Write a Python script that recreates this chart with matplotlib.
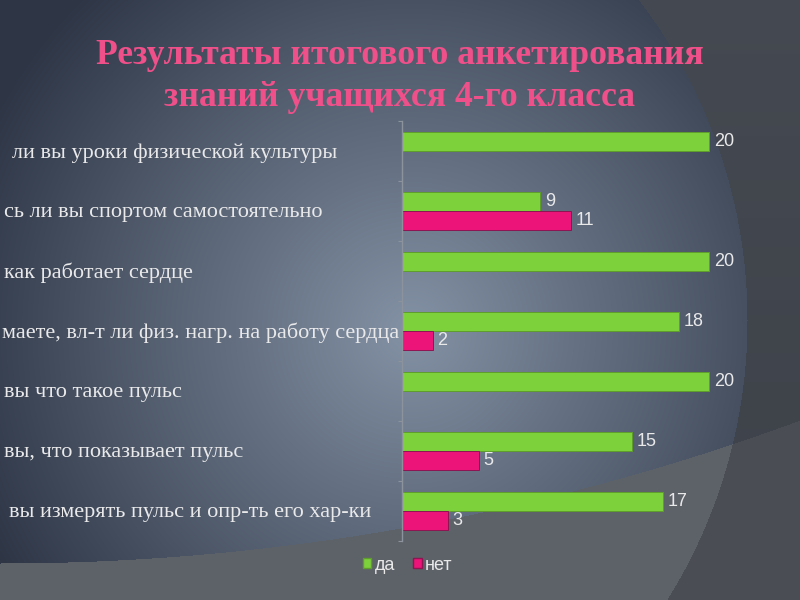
import numpy as np
import matplotlib
matplotlib.use("Agg")
import matplotlib.pyplot as plt
import matplotlib.transforms as mtransforms
from matplotlib.patches import Patch

# data
questions = [
    "ли вы уроки физической культуры",
    "сь ли вы спортом самостоятельно",
    "как работает сердце",
    "маете, вл-т ли физ. нагр. на работу сердца",
    "вы что такое пульс",
    "вы, что показывает пульс",
    "вы измерять пульс и опр-ть его хар-ки",
]
label_x = [12, 4, 4, 2, 4, 4, 9]   # px where the visible part of each label starts
yes = [20, 9, 20, 18, 20, 15, 17]
no = [None, 11, None, 2, None, 5, 3]
series_names = ["да", "нет"]

green = "#7dd13b"
pink = "#ec1478"
txt = "#e9e9ea"

W, H = 800, 600
fig = plt.figure(figsize=(8, 6), dpi=100)

# ---- background: slate radial gradient, big circle, grey band at bottom
yy, xx = np.mgrid[0:H, 0:W].astype(float)
d = np.clip(np.hypot(xx - 410, yy - 330) / 470.0, 0, 1) ** 1.0
inner = np.array([0x84, 0x92, 0xa5]) / 255
outer = np.array([0x2e, 0x36, 0x46]) / 255
img = inner[None, None, :] * (1 - d[..., None]) + outer[None, None, :] * d[..., None]

in_circle = (xx - 220) ** 2 + (yy - 320) ** 2 <= 527 ** 2
R = 2309.0
cy = 563 - R
band = yy > cy + np.sqrt(np.clip(R ** 2 - xx ** 2, 0, None))

dark_r = np.array([0x3d, 0x42, 0x4a]) / 255
img[~in_circle] = dark_r * (1 - 0.12 * (yy[~in_circle] / H))[:, None] + 0.03
band_in = np.array([0x5d, 0x61, 0x68]) / 255
band_out = np.array([0x4a, 0x4d, 0x53]) / 255
img[band & in_circle] = band_in
img[band & ~in_circle] = band_out
img = np.clip(img, 0, 1)

bg = fig.add_axes([0, 0, 1, 1], zorder=-10)
bg.imshow(img, aspect="auto", extent=(0, W, H, 0), interpolation="bilinear")
bg.set_xlim(0, W)
bg.set_ylim(H, 0)
bg.axis("off")

# ---- chart
ax = fig.add_axes([402 / W, 1 - 541 / H, 338 / W, 420 / H])
ax.patch.set_alpha(0)
pos = np.arange(len(questions))
h = 0.31

ax.barh(pos - h / 2, yes, height=h, color=green, edgecolor="#5f9e2c", linewidth=0.7)
no_pos = [p + h / 2 for p, v in zip(pos, no) if v is not None]
no_val = [v for v in no if v is not None]
ax.barh(no_pos, no_val, height=h, color=pink, edgecolor="#8e1452", linewidth=0.7)

for p, v in zip(pos, yes):
    ax.text(v + 0.3, p - h / 2, str(v), va="center", ha="left",
            color=txt, fontsize=13, family="Liberation Sans")
for p, v in zip(no_pos, no_val):
    ax.text(v + 0.3, p, str(v), va="center", ha="left",
            color=txt, fontsize=13, family="Liberation Sans")

ax.set_xlim(0, 22)
ax.set_ylim(len(questions) - 0.5, -0.5)
for s in ["top", "right", "bottom"]:
    ax.spines[s].set_visible(False)
ax.spines["left"].set_color("#8d939c")
ax.spines["left"].set_linewidth(1)
ax.set_xticks([])
ax.set_yticks(np.arange(len(questions) + 1) - 0.5)
ax.set_yticklabels([])
ax.tick_params(axis="y", length=3, color="#8d939c")

# question labels (their beginnings run off the left edge)
trans = mtransforms.blended_transform_factory(fig.transFigure, ax.transData)
for p, q, lx in zip(pos, questions, label_x):
    ax.text(lx / W, p + 0.03, q, transform=trans, ha="left", va="center",
            color=txt, fontsize=16, family="Liberation Serif", clip_on=False)

# title
fig.text(0.5, 1 - 55 / H, "Результаты итогового анкетирования",
         ha="center", va="center", color="#f0508a", fontsize=25.7,
         fontweight="bold", family="Liberation Serif")
fig.text(0.5, 1 - 97 / H, "знаний учащихся 4-го класса",
         ha="center", va="center", color="#f0508a", fontsize=25.7,
         fontweight="bold", family="Liberation Serif")

handles = [Patch(facecolor=green, edgecolor="#5f9e2c"),
           Patch(facecolor=pink, edgecolor="#8e1452")]
leg = fig.legend(handles, series_names, loc="center", bbox_to_anchor=(408 / W, 1 - 565 / H),
                 ncol=2, frameon=False, handlelength=0.45, handleheight=0.45,
                 handletextpad=0.2, columnspacing=1.0,
                 prop={"family": "Liberation Sans", "size": 13})
for t in leg.get_texts():
    t.set_color(txt)

fig.savefig("out.png", dpi=100)
